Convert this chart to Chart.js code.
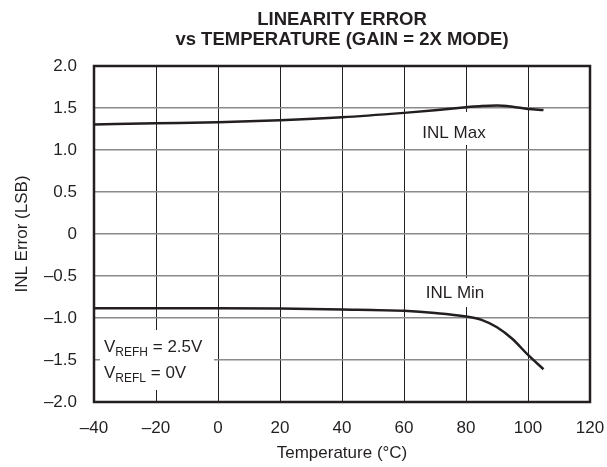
<!DOCTYPE html>
<html>
<head>
<meta charset="utf-8">
<script src="https://cdn.jsdelivr.net/npm/chart.js@4"></script>
<style>
  html, body { margin: 0; padding: 0; background: #fff; }
  canvas { display: block; }
</style>
</head>
<body>
<canvas id="inlChart" width="607" height="467"></canvas>
<script>
// temperature (°C) sample points
var temps = [-40, -20, 0, 20, 40, 60, 70, 80, 85, 90, 95, 100, 105];
var inlMax = [1.305, 1.318, 1.33, 1.354, 1.39, 1.442, 1.472, 1.508, 1.525, 1.53, 1.515, 1.488, 1.476];
var inlMin = [-0.885, -0.883, -0.883, -0.888, -0.898, -0.915, -0.94, -0.982, -1.022, -1.11, -1.25, -1.44, -1.61];

var xTickLabels = ['\u201340', '\u201320', '0', '20', '40', '60', '80', '100', '120'];
var yTickLabels = ['\u20132.0', '\u20131.5', '\u20131.0', '\u20130.5', '0', '0.5', '1.0', '1.5', '2.0'];

var FONT = "'Liberation Sans', Arial, Helvetica, sans-serif";
var INK = '#231f20';

function toPoints(xs, ys) {
  return xs.map(function (x, i) { return { x: x, y: ys[i] }; });
}

// white label boxes that break the grid, then the labels
var annotate = {
  id: 'annotate',
  beforeDatasetsDraw: function (chart) {
    var ctx = chart.ctx;
    ctx.save();
    ctx.fillStyle = '#fff';
    ctx.fillRect(100, 330, 114, 60);   // VREF box
    ctx.fillRect(415, 112, 78, 33);    // INL Max
    ctx.fillRect(418, 278, 74, 29);    // INL Min
    ctx.restore();
  },
  afterDraw: function (chart) {
    var ctx = chart.ctx;
    var a = chart.chartArea;
    ctx.save();
    // frame
    ctx.strokeStyle = INK;
    ctx.lineWidth = 2.5;
    ctx.strokeRect(a.left, a.top, a.right - a.left, a.bottom - a.top);

    ctx.fillStyle = INK;
    // title
    ctx.textAlign = 'center';
    ctx.textBaseline = 'middle';
    ctx.font = 'bold 18.5px ' + FONT;
    ctx.fillText('LINEARITY ERROR', 342, 20);
    ctx.fillText('vs TEMPERATURE (GAIN = 2X MODE)', 342, 40);

    // axis titles
    ctx.font = '17px ' + FONT;
    ctx.fillText('Temperature (\u00B0C)', 342, 453);
    ctx.save();
    ctx.translate(22, 234);
    ctx.rotate(-Math.PI / 2);
    ctx.fillText('INL Error (LSB)', 0, 0);
    ctx.restore();

    // curve labels
    ctx.fillText('INL Max', 454, 133);
    ctx.fillText('INL Min', 455, 293);

    // reference voltage note
    ctx.textAlign = 'left';
    ctx.textBaseline = 'alphabetic';
    function refLine(y, sub, rest) {
      ctx.font = '17px ' + FONT;
      ctx.fillText('V', 104, y);
      var w = ctx.measureText('V').width;
      ctx.font = '12px ' + FONT;
      ctx.fillText(sub, 104 + w, y + 4);
      var w2 = ctx.measureText(sub).width;
      ctx.font = '17px ' + FONT;
      ctx.fillText(rest, 104 + w + w2, y);
    }
    refLine(352, 'REFH', ' = 2.5V');
    refLine(378, 'REFL', ' = 0V');
    ctx.restore();
  }
};

new Chart(document.getElementById('inlChart'), {
  type: 'scatter',
  data: {
    datasets: [
      {
        label: 'INL Max',
        data: toPoints(temps, inlMax),
        showLine: true,
        borderColor: INK,
        borderWidth: 2.5,
        pointRadius: 0,
        cubicInterpolationMode: 'monotone'
      },
      {
        label: 'INL Min',
        data: toPoints(temps, inlMin),
        showLine: true,
        borderColor: INK,
        borderWidth: 2.5,
        pointRadius: 0,
        cubicInterpolationMode: 'monotone'
      }
    ]
  },
  options: {
    responsive: false,
    animation: false,
    layout: { padding: { top: 66, right: 17, left: 0, bottom: 0 } },
    plugins: {
      legend: { display: false },
      tooltip: { enabled: false }
    },
    scales: {
      x: {
        type: 'linear',
        min: -40,
        max: 120,
        afterFit: function (s) { s.height = 65; s.paddingLeft = 0; s.paddingRight = 0; },
        border: { display: false },
        grid: { color: INK, lineWidth: 1, drawTicks: false },
        ticks: {
          stepSize: 20,
          padding: 16,
          color: INK,
          font: { family: FONT, size: 17 },
          callback: function (v) { return xTickLabels[Math.round((v + 40) / 20)]; }
        }
      },
      y: {
        type: 'linear',
        min: -2,
        max: 2,
        afterFit: function (s) { s.width = 94; s.paddingTop = 0; s.paddingBottom = 0; },
        border: { display: false },
        grid: { color: '#8a8a8a', lineWidth: 1.5, drawTicks: false },
        ticks: {
          stepSize: 0.5,
          padding: 17,
          color: INK,
          font: { family: FONT, size: 17 },
          callback: function (v) { return yTickLabels[Math.round((v + 2) / 0.5)]; }
        }
      }
    }
  },
  plugins: [annotate]
});
</script>
</body>
</html>
